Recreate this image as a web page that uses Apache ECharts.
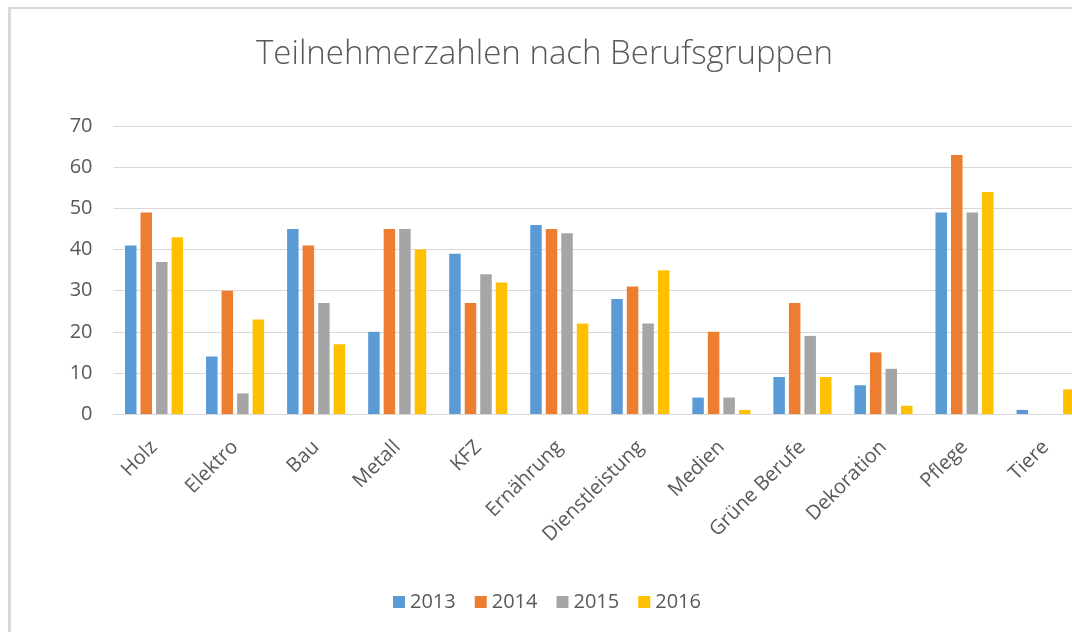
<!DOCTYPE html>
<html>
<head>
<meta charset="utf-8">
<script src="https://cdn.jsdelivr.net/npm/echarts@6/dist/echarts.min.js"></script>
<style>
html,body{margin:0;padding:0;background:#fff;overflow:hidden;width:1072px;height:632px;}
#frame{position:absolute;left:8px;top:7px;width:1200px;height:700px;border-left:3px solid #d9d9d9;border-top:2px solid #d9d9d9;}
#chart{position:absolute;left:0;top:0;width:1110px;height:632px;}
</style>
</head>
<body>
<div id="frame"></div>
<div id="chart"></div>
<script>
const titleText = 'Teilnehmerzahlen nach Berufsgruppen';
const categories = ['Holz','Elektro','Bau','Metall','KFZ','Ernährung','Dienstleistung','Medien','Grüne Berufe','Dekoration','Pflege','Tiere'];
const seriesNames = ['2013','2014','2015','2016'];
const v2013 = [41,14,45,20,39,46,28,4,9,7,49,1];
const v2014 = [49,30,41,45,27,45,31,20,27,15,63,0];
const v2015 = [37,5,27,45,34,44,22,4,19,11,49,0];
const v2016 = [43,23,17,40,32,22,35,1,9,2,54,6];
const yTicks = [0,10,20,30,40,50,60,70];
const colors = ['#5b9bd5','#ed7d31','#a5a5a5','#ffc000'];

const allValues = [v2013, v2014, v2015, v2016];
const chart = echarts.init(document.getElementById('chart'), null, {renderer:'canvas'});
const font = '"Open Sans", "Liberation Sans", sans-serif';
chart.setOption({
  animation:false,
  color: colors,
  graphic:[{
    type:'text', left:256, top:38,
    style:{text:titleText, font:'300 33px "Open Sans", sans-serif', fill:'#595959'}
  }],
  legend:{
    data: seriesNames, left:388, top:587,
    itemWidth:12, itemHeight:12, itemGap:19,
    icon:'rect',
    textStyle:{fontFamily:font, fontSize:20, color:'#595959'}
  },
  grid:{left:113.5, top:126.3, height:287.7, width:972.6, containLabel:false},
  xAxis:{
    type:'category', data:categories,
    axisLine:{lineStyle:{color:'#d9d9d9', width:1}},
    axisTick:{show:false},
    axisLabel:{rotate:45, fontFamily:font, fontSize:20, color:'#595959', margin:30, interval:0}
  },
  yAxis:{
    type:'value', min:yTicks[0], max:yTicks[yTicks.length-1], interval:10,
    axisLine:{show:false}, axisTick:{show:false},
    splitLine:{lineStyle:{color:'#d9d9d9', width:1}},
    axisLabel:{fontFamily:font, fontSize:20, color:'#595959', margin:21}
  },
  series: seriesNames.map((n,i)=>({
    name:n, type:'bar', data:allValues[i], barWidth:11.5, barGap:'35%'
  }))
});
</script>
</body>
</html>
